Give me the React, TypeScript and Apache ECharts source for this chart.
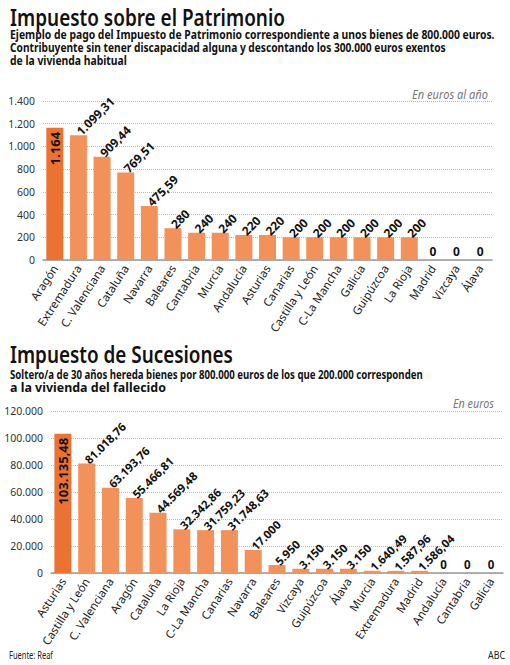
import React, { useEffect, useRef } from "react";
import * as echarts from "echarts";

const patrimonioRegions = ["Aragón", "Extremadura", "C. Valenciana", "Cataluña", "Navarra", "Baleares", "Cantabria", "Murcia", "Andalucía", "Asturias", "Canarias", "Castilla y León", "C-La Mancha", "Galicia", "Guipúzcoa", "La Rioja", "Madrid", "Vizcaya", "Álava"];
const patrimonioValues = [1164, 1099.31, 909.44, 769.51, 475.59, 280, 240, 240, 220, 220, 200, 200, 200, 200, 200, 200, 0, 0, 0];

const sucesionesRegions = ["Asturias", "Castilla y León", "C. Valenciana", "Aragón", "Cataluña", "La Rioja", "C-La Mancha", "Canarias", "Navarra", "Baleares", "Vizcaya", "Guipúzcoa", "Álava", "Murcia", "Extremadura", "Madrid", "Andalucía", "Cantabria", "Galicia"];
const sucesionesValues = [103135.48, 81018.76, 63193.76, 55466.81, 44569.48, 32342.86, 31759.23, 31748.63, 17000, 5950, 3150, 3150, 3150, 1640.49, 1587.96, 1586.04, 0, 0, 0];

const FONT = "'Noto Sans', 'Open Sans', sans-serif";
const DARK = "#EC7232";
const LIGHT = "#F3915A";

function thousands(s: string) {
  return s.replace(/\B(?=(\d{3})+(?!\d))/g, ".");
}
function fmt(v: number) {
  if (Number.isInteger(v)) return thousands(String(v));
  const [i, d] = v.toFixed(2).split(".");
  return thousands(i) + "," + d;
}

let ctx: CanvasRenderingContext2D | null = null;
function fitScale(text: string, size: number, weight: string, style: string, target: number) {
  if (!ctx) ctx = document.createElement("canvas").getContext("2d");
  if (!ctx) return 1;
  ctx.font = `${style} ${weight} ${size}px ${FONT}`;
  const w = ctx.measureText(text).width;
  return w > 0 ? target / w : 1;
}

function txt(text: string, x: number, y: number, size: number, opts: any = {}) {
  const weight = opts.weight || "normal";
  const fstyle = opts.italic ? "italic" : "normal";
  const align = opts.align || "left";
  const scaleX = opts.width ? fitScale(text, size, weight, fstyle, opts.width) : 1;
  return {
    type: "text",
    x,
    y,
    scaleX,
    style: {
      text,
      fontSize: size,
      fontFamily: FONT,
      fontWeight: weight,
      fontStyle: fstyle,
      fill: opts.color || "#111",
      align,
      verticalAlign: "middle",
    },
  };
}

function buildData(values: number[], insideSize: number) {
  return values.map((v, i) => {
    if (i === 0) {
      return {
        value: v,
        itemStyle: { color: DARK },
        label: {
          show: true,
          position: "insideTop",
          rotate: 90,
          align: "right",
          verticalAlign: "middle",
          distance: 4,
          fontSize: insideSize,
          fontWeight: "bold",
          color: "#111",
        },
      };
    }
    if (v === 0) {
      return {
        value: v,
        itemStyle: { color: LIGHT },
        label: { show: true, position: "top", rotate: 0, align: "center", verticalAlign: "bottom", distance: 3 },
      };
    }
    return { value: v, itemStyle: { color: LIGHT } };
  });
}

export default function App() {
  const ref = useRef<HTMLDivElement>(null);
  useEffect(() => {
    if (!ref.current) return;
    const chart = echarts.init(ref.current, undefined, { renderer: "svg" });

    const xAxisCommon = {
      type: "category",
      axisTick: { show: false },
      axisLine: { lineStyle: { color: "#999", width: 1.5 } },
      axisLabel: { interval: 0, rotate: 57, fontSize: 11.5, color: "#222", fontFamily: FONT, margin: 6 },
    };
    const yAxisCommon = {
      type: "value",
      min: 0,
      axisLine: { show: false },
      axisTick: { show: false },
      splitLine: { lineStyle: { type: "dotted", color: "#bbb", width: 1 } },
      axisLabel: { fontSize: 10.5, color: "#333", fontFamily: FONT, margin: 8, formatter: (v: number) => fmt(v) },
    };
    const labelCommon = (size: number) => ({
      show: true,
      position: "top",
      rotate: 45,
      align: "left",
      verticalAlign: "middle",
      distance: 2,
      fontSize: size,
      fontWeight: "bold",
      color: "#111",
      fontFamily: FONT,
      formatter: (p: any) => fmt(p.value),
    });

    chart.setOption({
      animation: false,
      backgroundColor: "#fff",
      grid: [
        { left: 43, right: 18, top: 101, bottom: 405 },
        { left: 51, right: 7, top: 411, bottom: 92 },
      ],
      xAxis: [
        { ...xAxisCommon, gridIndex: 0, data: patrimonioRegions },
        { ...xAxisCommon, gridIndex: 1, data: sucesionesRegions },
      ],
      yAxis: [
        { ...yAxisCommon, gridIndex: 0, max: 1400, interval: 200 },
        { ...yAxisCommon, gridIndex: 1, max: 120000, interval: 20000 },
      ],
      series: [
        {
          type: "bar",
          xAxisIndex: 0,
          yAxisIndex: 0,
          barWidth: 17,
          label: labelCommon(12),
          data: buildData(patrimonioValues, 13),
        },
        {
          type: "bar",
          xAxisIndex: 1,
          yAxisIndex: 1,
          barWidth: 17,
          label: labelCommon(11.5),
          data: buildData(sucesionesValues, 13),
        },
      ],
      graphic: [
        txt("Impuesto sobre el Patrimonio", 10, 17, 23, { weight: 600, width: 275 }),
        txt("Ejemplo de pago del Impuesto de Patrimonio correspondiente a unos bienes de 800.000 euros.", 10, 34, 12.5, { weight: "bold", width: 485 }),
        txt("Contribuyente sin tener discapacidad alguna y descontando los 300.000 euros exentos", 10, 47, 12.5, { weight: "bold", width: 436 }),
        txt("de la vivienda habitual", 10, 60, 12.5, { weight: "bold", width: 117 }),
        txt("En euros al año", 488, 94, 12, { italic: true, color: "#777", align: "right", width: 76 }),
        txt("Impuesto de Sucesiones", 10, 354, 23, { weight: 600, width: 223 }),
        txt("Soltero/a de 30 años hereda bienes por 800.000 euros de los que 200.000 corresponden", 10, 374, 12.5, { weight: "bold", width: 413 }),
        txt("a la vivienda del fallecido", 10, 387, 12.5, { weight: "bold", width: 156 }),
        txt("En euros", 494, 403, 12, { italic: true, color: "#777", align: "right", width: 41 }),
        txt("Fuente: Reaf", 9, 655, 11, { color: "#222", width: 44 }),
        txt("ABC", 505, 655, 11, { color: "#222", align: "right", width: 17 }),
      ],
    });
    return () => chart.dispose();
  }, []);
  return (
    <div
      ref={ref}
      style={{ position: "absolute", left: 0, top: 0, width: 510, height: 665, background: "#fff" }}
    />
  );
}
